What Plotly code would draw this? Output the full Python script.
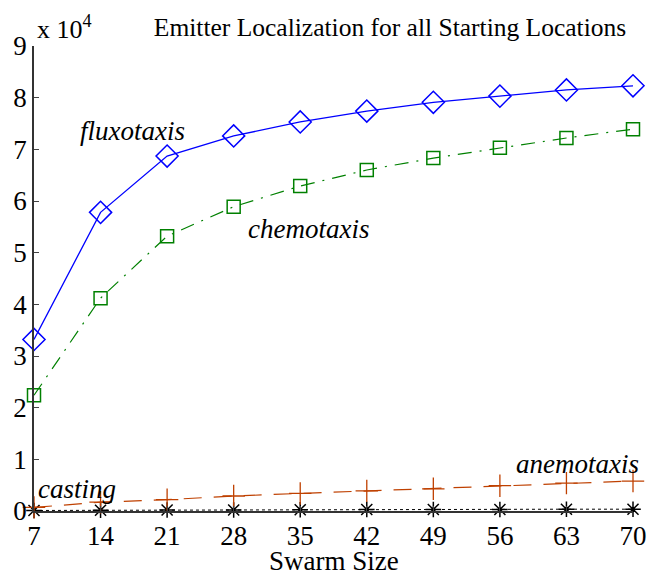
import plotly.graph_objects as go

swarm = [7, 14, 21, 28, 35, 42, 49, 56, 63, 70]
fluxotaxis = [3.32, 5.78, 6.87, 7.26, 7.53, 7.74, 7.91, 8.03, 8.15, 8.23]
chemotaxis = [2.24, 4.12, 5.32, 5.89, 6.29, 6.60, 6.83, 7.03, 7.22, 7.39]
anemotaxis = [0.07, 0.17, 0.22, 0.29, 0.34, 0.39, 0.43, 0.49, 0.54, 0.58]
casting = [0.01, 0.015, 0.02, 0.02, 0.025, 0.03, 0.03, 0.03, 0.035, 0.035]
y_ticks = [0, 1, 2, 3, 4, 5, 6, 7, 8, 9]

FONT = "Liberation Serif"

fig = go.Figure()
fig.add_trace(go.Scatter(x=swarm, y=casting, mode="lines+markers", cliponaxis=False,
                         line=dict(color="black", width=1, dash="dot"),
                         marker=dict(symbol="asterisk-open", size=13, color="black",
                                     line=dict(color="black", width=1.5))))
fig.add_trace(go.Scatter(x=swarm, y=anemotaxis, mode="lines+markers", cliponaxis=False,
                         line=dict(color="rgb(191,64,0)", width=1.2, dash="18px,12px"),
                         marker=dict(symbol="cross-thin-open", size=16,
                                     line=dict(color="rgb(191,64,0)", width=1.3))))
fig.add_trace(go.Scatter(x=swarm, y=chemotaxis, mode="lines+markers", cliponaxis=False,
                         line=dict(color="rgb(0,128,0)", width=1.2, dash="14px,8px,2px,8px"),
                         marker=dict(symbol="square-open", size=13, color="rgb(0,128,0)",
                                     line=dict(color="rgb(0,128,0)", width=1.5))))
fig.add_trace(go.Scatter(x=swarm, y=fluxotaxis, mode="lines+markers", cliponaxis=False,
                         line=dict(color="rgb(0,0,255)", width=1.3),
                         marker=dict(symbol="diamond-open", size=17, color="rgb(0,0,255)",
                                     line=dict(color="rgb(0,0,255)", width=1.5))))

labels = [("fluxotaxis", 132, 131), ("chemotaxis", 308, 229),
          ("anemotaxis", 577, 464), ("casting", 77, 489)]
for txt, px, py in labels:
    fig.add_annotation(text=txt, xref="paper", yref="paper",
                       x=(px - 34) / 599, y=(511 - py) / 465,
                       showarrow=False, xanchor="center", yanchor="middle",
                       font=dict(family=FONT, size=27, color="black", style="italic"))

fig.add_annotation(text="x 10<sup>4</sup>", xref="paper", yref="paper",
                   x=(35 - 34) / 599, y=(511 - 28) / 465, showarrow=False,
                   xanchor="left", yanchor="middle",
                   font=dict(family=FONT, size=26, color="black"))

fig.add_annotation(text="Swarm Size", xref="paper", yref="paper",
                   x=0.5, y=(511 - 561) / 465, showarrow=False,
                   xanchor="center", yanchor="middle",
                   font=dict(family=FONT, size=27, color="black"))

fig.update_layout(
    width=647, height=576,
    margin=dict(l=34, r=14, t=46, b=65, autoexpand=False),
    paper_bgcolor="white", plot_bgcolor="white",
    showlegend=False,
    title=dict(text="Emitter Localization for all Starting Locations",
               x=390 / 647, xanchor="center", y=1 - 27 / 576, yanchor="middle",
               font=dict(family=FONT, size=25.5, color="black")),
    font=dict(family=FONT, size=27, color="black"),
    xaxis=dict(range=[7, 70], tickvals=swarm, ticks="inside", ticklen=5,
               showgrid=False, zeroline=False, showline=True, linecolor="#333",
               linewidth=1.5, tickfont=dict(family=FONT, size=27), automargin=False),
    yaxis=dict(range=[0, 9], tickvals=y_ticks, ticks="inside", ticklen=5,
               showgrid=False, zeroline=False, showline=True, linecolor="#333",
               linewidth=1.5, tickfont=dict(family=FONT, size=27), automargin=False),
)

fig.write_html("out.html", config={"displayModeBar": False},
               post_script="document.body.style.margin='0';document.body.style.padding='0';")
